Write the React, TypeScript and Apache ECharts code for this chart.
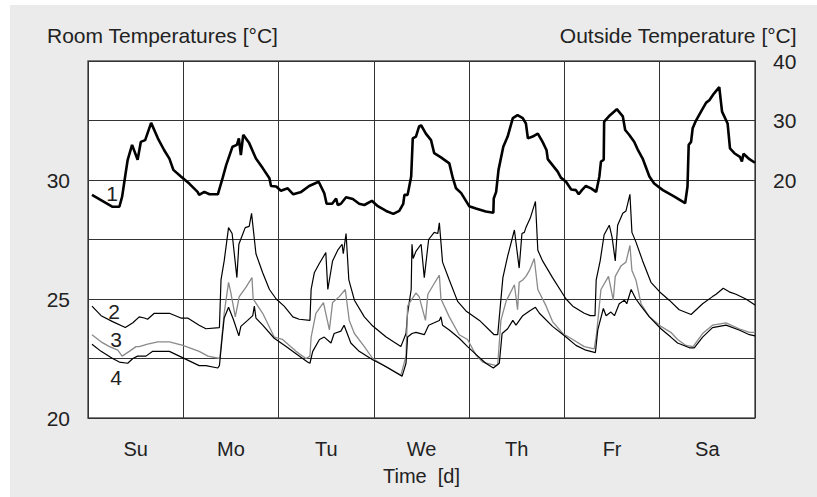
import React, { useEffect, useRef } from "react";
import * as echarts from "echarts";

// Days of the week (category labels centred in each day band)
const days = ["Su", "Mo", "Tu", "We", "Th", "Fr", "Sa"];
const leftTickLabels = [20, 25, 30];
const rightTickLabels = [20, 30, 40];

// [hour of week, °C] — outside temperature (right axis), curve 1
const outside: number[][] = [
  [1.0, 17.5], [6.2, 15.5], [7.9, 15.5], [8.6, 17.2], [9.4, 20.8], [10.0, 23.4], [11.1, 25.9],
  [12.5, 23.4], [13.3, 26.4], [14.4, 26.7], [15.9, 29.6], [17.6, 27.0], [19.2, 25.0], [20.5, 23.6],
  [21.5, 21.7], [23.4, 20.6], [25.5, 19.4], [27.6, 18.0], [28.0, 17.5], [29.3, 18.0], [30.6, 17.6],
  [32.7, 17.6], [33.9, 20.3], [34.8, 22.5], [36.4, 25.6], [37.5, 25.9], [38.0, 27.0], [38.5, 24.2],
  [39.1, 27.6], [40.6, 26.2], [42.3, 23.6], [44.0, 22.0], [45.7, 20.3], [46.1, 19.0], [47.4, 18.9],
  [48.6, 18.2], [50.3, 18.6], [51.7, 17.6], [53.7, 18.0], [55.7, 19.0], [58.1, 19.7], [59.5, 17.8],
  [60.1, 16.0], [61.5, 16.0], [62.5, 16.9], [62.9, 15.8], [63.7, 16.0], [65.0, 17.1], [66.7, 16.8],
  [68.3, 16.0], [69.6, 15.8], [71.5, 16.5], [73.0, 15.6], [75.1, 14.8], [76.9, 14.3], [78.4, 14.8],
  [79.4, 16.0], [79.7, 17.5], [80.5, 17.5], [81.4, 20.6], [81.8, 27.0], [82.6, 27.3], [83.4, 29.0],
  [83.9, 29.2], [85.1, 27.8], [86.4, 26.7], [87.2, 24.5], [88.9, 23.8], [91.0, 22.8], [91.9, 20.3],
  [92.7, 18.6], [94.0, 17.8], [96.0, 15.6], [97.7, 15.2], [100.2, 14.7], [102.1, 14.5], [102.2, 16.9],
  [102.8, 18.0], [103.4, 21.7], [104.6, 25.6], [105.7, 27.3], [107.0, 30.4], [108.2, 30.9],
  [109.5, 30.4], [110.3, 29.5], [110.8, 27.0], [112.0, 27.3], [113.3, 27.8], [114.5, 26.4],
  [115.5, 25.0], [115.8, 23.5], [117.0, 22.5], [118.3, 21.4], [119.1, 20.4], [120.4, 19.7],
  [121.7, 18.4], [122.9, 18.3], [123.6, 17.6], [124.4, 18.3], [125.4, 19.0], [126.7, 18.6],
  [128.0, 18.0], [128.8, 20.6], [129.2, 23.1], [129.9, 23.4], [130.0, 29.8], [131.2, 30.7],
  [133.2, 31.9], [134.7, 30.7], [135.3, 28.4], [136.3, 27.6], [137.6, 26.4], [138.4, 25.2],
  [139.7, 23.6], [141.4, 20.6], [142.6, 19.4], [144.8, 18.3], [147.7, 17.2], [150.4, 16.1],
  [151.0, 18.9], [151.3, 25.9], [151.9, 26.4], [152.3, 28.7], [153.0, 29.8], [154.4, 31.5],
  [155.7, 33.0], [156.5, 33.4], [157.4, 34.3], [159.0, 35.6], [159.7, 31.5], [161.1, 29.5],
  [161.7, 25.3], [162.8, 24.5], [164.2, 23.9], [164.7, 23.1], [165.1, 24.4], [166.6, 23.5],
  [168.0, 22.9],
];

// Room temperature curve 2 (left axis)
const room2: number[][] = [
  [1.0, 24.7], [3.3, 24.3], [6.2, 24.05], [9.4, 23.8], [11.3, 24.0], [12.9, 24.25], [14.2, 24.2],
  [15.0, 24.15], [16.7, 24.4], [20.5, 24.4], [23.4, 24.2], [25.1, 24.2], [28.0, 23.9], [29.7, 23.75],
  [33.1, 23.8], [33.5, 25.8], [34.3, 26.6], [35.4, 28.0], [36.3, 27.75], [37.5, 25.9], [38.0, 27.3],
  [39.6, 28.0], [40.6, 28.05], [41.2, 28.6], [42.3, 26.9], [44.0, 26.1], [45.7, 25.4], [47.4, 25.0],
  [49.4, 24.7], [51.6, 24.25], [53.2, 24.15], [55.9, 24.1], [56.2, 25.4], [57.0, 26.1], [58.3, 26.5],
  [59.9, 26.95], [60.4, 25.4], [61.6, 26.6], [62.9, 27.05], [64.0, 27.3], [64.3, 26.9], [65.0, 27.75],
  [65.7, 25.8], [67.1, 24.95], [69.6, 24.25], [71.5, 23.9], [75.1, 23.4], [78.8, 23.0], [80.1, 23.55],
  [80.5, 24.4], [81.4, 25.4], [81.6, 27.3], [81.9, 26.7], [82.6, 27.0], [83.9, 27.3], [84.7, 25.9],
  [85.8, 27.5], [87.2, 27.8], [88.1, 27.75], [88.5, 28.2], [89.3, 26.55], [91.0, 25.8], [93.1, 24.9],
  [95.2, 24.5], [98.6, 24.1], [102.3, 23.5], [103.2, 23.5], [104.5, 25.9], [105.7, 26.8],
  [107.4, 27.9], [108.6, 26.3], [109.3, 27.75], [109.9, 27.8], [110.3, 28.0], [111.4, 28.4],
  [112.7, 29.1], [113.3, 27.05], [114.5, 26.6], [117.0, 25.9], [120.4, 25.0], [122.1, 24.7],
  [125.0, 24.4], [126.5, 24.3], [127.7, 24.3], [128.0, 25.8], [129.0, 26.6], [130.0, 27.7],
  [131.3, 28.1], [132.0, 27.6], [132.8, 26.6], [133.4, 28.1], [134.7, 28.6], [135.5, 28.7],
  [136.5, 29.4], [137.0, 27.8], [138.0, 27.4], [139.7, 26.6], [141.8, 25.7], [144.3, 25.25],
  [146.4, 24.95], [148.9, 24.55], [151.9, 24.35], [154.8, 24.8], [157.3, 25.1], [158.2, 25.2],
  [160.0, 25.45], [161.5, 25.3], [163.2, 25.2], [165.7, 25.0], [168.0, 24.75],
];

// Room temperature curve 3 (grey, left axis)
const room3: number[][] = [
  [1.0, 23.5], [3.3, 23.2], [5.4, 23.0], [7.5, 22.85], [8.6, 22.6], [10.4, 22.8], [12.1, 23.0],
  [12.9, 23.0], [15.0, 23.1], [17.6, 23.2], [20.5, 23.2], [23.9, 23.05], [28.0, 22.8], [30.2, 22.6],
  [33.2, 22.5], [34.3, 24.4], [35.4, 25.7], [36.0, 25.25], [37.1, 24.25], [38.1, 25.1], [39.8, 25.5],
  [41.3, 25.9], [41.6, 25.0], [44.0, 24.4], [46.9, 23.4], [49.0, 23.3], [52.4, 22.8], [54.9, 22.5],
  [55.9, 22.6], [56.2, 23.4], [57.4, 24.4], [59.3, 24.85], [60.8, 23.7], [61.6, 24.85], [63.3, 25.1],
  [64.8, 25.4], [65.8, 24.1], [67.1, 23.55], [69.6, 23.0], [71.7, 22.5], [75.1, 22.15], [78.8, 21.8],
  [80.1, 22.6], [80.5, 24.7], [81.4, 24.95], [82.6, 25.25], [83.4, 25.1], [85.0, 24.1], [85.6, 25.2],
  [87.2, 25.65], [88.5, 26.0], [88.9, 25.0], [91.0, 24.25], [93.5, 23.5], [95.6, 23.3], [97.7, 22.65],
  [99.4, 22.35], [102.8, 22.2], [103.2, 22.25], [104.0, 24.1], [105.3, 24.9], [107.4, 25.6],
  [108.2, 24.55], [108.6, 25.7], [109.5, 25.8], [110.3, 25.95], [111.2, 26.2], [112.4, 26.7],
  [113.3, 25.4], [115.4, 24.7], [117.0, 24.05], [119.6, 23.55], [122.1, 23.3], [125.0, 23.0],
  [127.5, 22.9], [128.1, 23.55], [129.2, 25.4], [131.1, 25.95], [132.3, 24.95], [132.8, 25.95],
  [134.3, 26.4], [135.5, 26.55], [136.5, 27.25], [137.0, 26.2], [138.0, 25.8], [139.3, 24.8],
  [141.4, 24.25], [144.3, 23.85], [146.8, 23.6], [148.5, 23.3], [150.6, 23.05], [152.4, 23.0],
  [154.8, 23.55], [157.3, 23.9], [160.7, 24.0], [164.0, 23.75], [166.6, 23.6], [168.0, 23.6],
];

// Room temperature curve 4 (left axis)
const room4: number[][] = [
  [1.0, 23.1], [3.3, 22.8], [6.2, 22.5], [7.9, 22.35], [10.0, 22.3], [11.3, 22.5], [12.5, 22.6],
  [14.6, 22.6], [16.3, 22.8], [20.5, 22.8], [23.0, 22.6], [25.5, 22.4], [28.0, 22.2], [29.7, 22.2],
  [32.7, 22.1], [33.1, 22.2], [33.8, 23.4], [34.3, 24.2], [35.4, 24.65], [36.6, 24.15], [38.0, 23.45],
  [38.5, 23.85], [40.2, 24.1], [41.5, 24.3], [41.9, 24.7], [42.3, 24.2], [44.0, 23.9], [46.9, 23.35],
  [49.9, 23.0], [52.4, 22.7], [55.3, 22.35], [55.9, 22.3], [56.6, 22.8], [58.3, 23.3], [59.5, 23.4],
  [61.2, 23.15], [62.0, 23.55], [63.7, 23.65], [64.5, 23.9], [66.2, 23.15], [68.3, 22.8],
  [71.7, 22.45], [75.1, 22.15], [79.1, 21.75], [80.1, 22.3], [80.5, 23.4], [81.6, 23.55],
  [82.6, 23.6], [84.7, 23.5], [85.8, 23.9], [87.2, 24.0], [88.5, 24.1], [88.9, 24.25], [89.3, 23.9],
  [91.0, 23.7], [93.5, 23.35], [95.6, 23.0], [98.2, 22.6], [100.2, 22.3], [102.1, 22.1],
  [103.6, 22.3], [104.3, 23.55], [105.7, 23.75], [107.0, 24.1], [107.8, 23.9], [109.5, 24.3],
  [111.2, 24.5], [112.7, 24.65], [113.7, 24.4], [117.0, 23.85], [120.4, 23.4], [122.9, 23.05],
  [125.4, 22.85], [127.8, 22.75], [128.4, 23.7], [129.8, 24.6], [130.5, 24.3], [131.7, 24.45],
  [132.6, 24.3], [133.8, 24.8], [135.1, 24.95], [135.7, 24.8], [136.8, 25.4], [138.0, 25.0],
  [139.3, 24.7], [141.4, 24.25], [144.3, 23.75], [146.8, 23.4], [148.5, 23.15], [151.5, 22.95],
  [152.7, 22.95], [154.8, 23.4], [157.3, 23.8], [160.7, 23.9], [164.0, 23.7], [166.6, 23.5],
  [168.0, 23.45],
];

const FONT = "'Liberation Sans', Arial, Helvetica, sans-serif";
const TXT = "#222";

export default function App() {
  const ref = useRef<HTMLDivElement>(null);
  useEffect(() => {
    if (!ref.current) return;
    const chart = echarts.init(ref.current, null, { renderer: "svg" });
    const gridLine = { show: true, lineStyle: { color: "#333", width: 1 } };
    chart.setOption({
      animation: false,
      backgroundColor: "transparent",
      textStyle: { fontFamily: FONT, color: TXT },
      grid: {
        left: 88, top: 61, width: 667, height: 357,
        show: true, backgroundColor: "#fff", borderColor: "#555", borderWidth: 1.5,
      },
      xAxis: [
        {
          type: "value", min: 0, max: 168, interval: 24,
          axisLine: { show: false }, axisTick: { show: false }, axisLabel: { show: false },
          splitLine: gridLine,
        },
        {
          type: "category", data: days, position: "bottom", boundaryGap: true,
          axisLine: { show: false }, axisTick: { show: false }, splitLine: { show: false },
          axisLabel: { fontSize: 20, color: TXT, fontFamily: FONT, margin: 21 },
          name: "Time  [d]", nameLocation: "middle", nameGap: 48,
          nameTextStyle: { fontSize: 20, color: TXT, fontFamily: FONT },
        },
      ],
      yAxis: [
        {
          type: "value", min: 20, max: 35, interval: 2.5, position: "left",
          axisLine: { show: false }, axisTick: { show: false },
          axisLabel: {
            fontSize: 21, color: TXT, fontFamily: FONT, margin: 18,
            formatter: (v: number) => (leftTickLabels.includes(v) ? String(v) : ""),
          },
          splitLine: gridLine,
        },
        {
          type: "value", min: -20, max: 40, interval: 10, position: "right",
          axisLine: { show: false }, axisTick: { show: false }, splitLine: { show: false },
          axisLabel: {
            fontSize: 21, color: TXT, fontFamily: FONT, margin: 18,
            formatter: (v: number) => (rightTickLabels.includes(v) ? String(v) : ""),
          },
        },
      ],
      series: [
        {
          name: "Outside", type: "line", xAxisIndex: 0, yAxisIndex: 1, data: outside,
          showSymbol: false, lineStyle: { color: "#000", width: 2.6 }, z: 5,
        },
        {
          name: "Room 2", type: "line", xAxisIndex: 0, yAxisIndex: 0, data: room2,
          showSymbol: false, lineStyle: { color: "#000", width: 1.2 },
        },
        {
          name: "Room 3", type: "line", xAxisIndex: 0, yAxisIndex: 0, data: room3,
          showSymbol: false, lineStyle: { color: "#8a8a8a", width: 1.3 },
        },
        {
          name: "Room 4", type: "line", xAxisIndex: 0, yAxisIndex: 0, data: room4,
          showSymbol: false, lineStyle: { color: "#000", width: 1.2 },
        },
      ],
      graphic: [
        { type: "text", left: 47, top: 25, style: { text: "Room Temperatures [°C]", font: `21px ${FONT}`, fill: TXT } },
        { type: "text", right: 20, top: 25, style: { text: "Outside Temperature [°C]", font: `21px ${FONT}`, fill: TXT } },
        { type: "text", x: 112, y: 193, style: { text: "1", font: `21px ${FONT}`, fill: TXT, align: "center", verticalAlign: "middle" } },
        { type: "text", x: 114, y: 311, style: { text: "2", font: `21px ${FONT}`, fill: TXT, align: "center", verticalAlign: "middle" } },
        { type: "text", x: 116, y: 339, style: { text: "3", font: `21px ${FONT}`, fill: TXT, align: "center", verticalAlign: "middle" } },
        { type: "text", x: 116, y: 377, style: { text: "4", font: `21px ${FONT}`, fill: TXT, align: "center", verticalAlign: "middle" } },
      ],
    });
    return () => chart.dispose();
  }, []);

  return (
    <div style={{ position: "absolute", left: 0, top: 0, width: 817, height: 497, background: "#fff" }}>
      <div style={{ position: "absolute", left: 10, top: 5, width: 807, height: 492, background: "#ebebeb" }} />
      <div ref={ref} style={{ position: "absolute", left: 0, top: 0, width: 817, height: 497 }} />
    </div>
  );
}
